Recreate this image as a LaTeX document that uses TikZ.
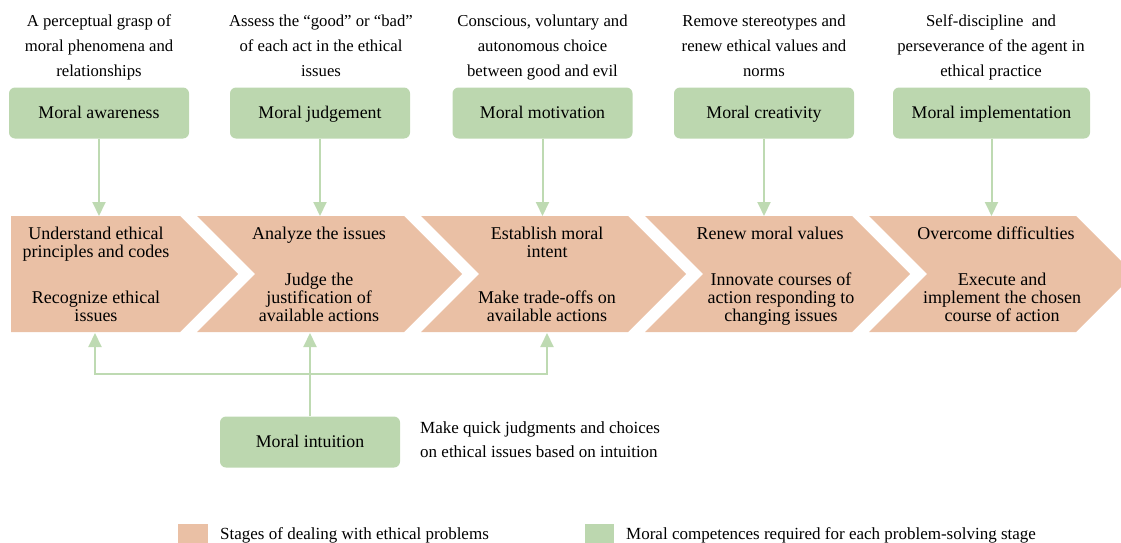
\documentclass[tikz,border=0pt]{standalone}
\usepackage{fontspec}
\setmainfont{Liberation Serif}
\usetikzlibrary{arrows.meta}
\definecolor{peach}{RGB}{234,192,165}
\definecolor{sage}{RGB}{188,215,175}
\definecolor{linegreen}{RGB}{190,218,178}
\begin{document}
\begin{tikzpicture}[x=1pt,y=-1pt,
  comp/.style={fill=sage, rounded corners=6pt, minimum width=180pt, minimum height=51pt,
    font=\fontsize{17.8}{20}\selectfont, text height=12pt, text depth=1pt, inner sep=0pt},
  desc/.style={align=center, font=\fontsize{16.7}{24.5}\selectfont, anchor=base, inner sep=0pt},
  stagetxt/.style={align=center, font=\fontsize{18}{18}\selectfont, anchor=base, inner sep=0pt},
  conn/.style={draw=linegreen, line width=2pt, -{Triangle[length=14pt,width=13pt]}},
  chev/.style={fill=peach},
  legbox/.style={minimum width=30pt, minimum height=19pt, inner sep=0pt},
  legtxt/.style={anchor=base west, font=\fontsize{17}{20}\selectfont, inner sep=0pt}
]
\useasboundingbox (0,0) rectangle (1121,543);
% stage chevrons
\begin{scope}
\clip (0,0) rectangle (1121,543);
\fill[chev] (11,216) -- (180,216) -- (238,274) -- (180,332) -- (11,332) -- cycle;
\foreach \o in {0,224,448,672} {
  \fill[chev] ({197+\o},216) -- ({404+\o},216) -- ({462+\o},274) -- ({404+\o},332)
    -- ({197+\o},332) -- ({255+\o},274) -- cycle;
}
\end{scope}
% stage texts (anchored at the baseline of their last line)
\node[stagetxt] (s1a) at (96,257) {Understand ethical\\principles and codes};
\node[stagetxt] (s1b) at (96,321) {Recognize ethical\\issues};
\node[stagetxt] (s2a) at (319,239) {Analyze the issues};
\node[stagetxt] (s2b) at (319,321) {Judge the\\justification of\\available actions};
\node[stagetxt] (s3a) at (547,257) {Establish moral\\intent};
\node[stagetxt] (s3b) at (547,321) {Make trade-offs on\\available actions};
\node[stagetxt] (s4a) at (770,239) {Renew moral values};
\node[stagetxt] (s4b) at (781,321) {Innovate courses of\\action responding to\\changing issues};
\node[stagetxt] (s5a) at (996,239) {Overcome difficulties};
\node[stagetxt] (s5b) at (1002,321) {Execute and\\implement the chosen\\course of action};
% competence boxes
\node[comp] (aw) at (99,113) {Moral awareness};
\node[comp] (ju) at (320,113) {Moral judgement};
\node[comp] (mo) at (542.5,113) {Moral motivation};
\node[comp] (cr) at (764,113) {Moral creativity};
\node[comp, minimum width=197pt] (im) at (991.5,113) {Moral implementation};
\node[comp] (in) at (310,442) {Moral intuition};
% descriptions
\node[desc] (d1) at (99,76) {A perceptual grasp of\\moral phenomena and\\relationships};
\node[desc] (d2) at (321,76) {Assess the “good” or “bad”\\of each act in the ethical\\issues};
\node[desc] (d3) at (542.5,76) {Conscious, voluntary and\\autonomous choice\\between good and evil};
\node[desc] (d4) at (764,76) {Remove stereotypes and\\renew ethical values and\\norms};
\node[desc] (d5) at (991,76) {Self-discipline\ \ and\\perseverance of the agent in\\ethical practice};
\node[anchor=base west, align=left, inner sep=0pt, font=\fontsize{17}{24}\selectfont] (d6) at (420,457)
  {Make quick judgments and choices\\on ethical issues based on intuition};
% targets on the chevrons
\coordinate (t1) at (99,216);
\coordinate (t2) at (320,216);
\coordinate (t3) at (542.5,216);
\coordinate (t4) at (764,216);
\coordinate (t5) at (991.5,216);
\coordinate (b1) at (95,333);
\coordinate (b2) at (310,333);
\coordinate (b3) at (547,333);
\coordinate (j1) at (95,374);
\coordinate (j3) at (547,374);
% connectors
\draw[conn] (aw.south) -- (t1);
\draw[conn] (ju.south) -- (t2);
\draw[conn] (mo.south) -- (t3);
\draw[conn] (cr.south) -- (t4);
\draw[conn] (im.south) -- (t5);
\draw[conn] (in.north) -- (b2);
\draw[conn] (j3) -- (j1) -- (b1);
\draw[conn] (j1) -- (j3) -- (b3);
% legend
\node[legbox, fill=peach] (l1) at (193,533.5) {};
\node[legtxt] (l1t) at (220,539) {Stages of dealing with ethical problems};
\node[legbox, fill=sage, minimum width=29pt] (l2) at (599.5,533.5) {};
\node[legtxt] (l2t) at (626,539) {Moral competences required for each problem-solving stage};
\end{tikzpicture}
\end{document}
